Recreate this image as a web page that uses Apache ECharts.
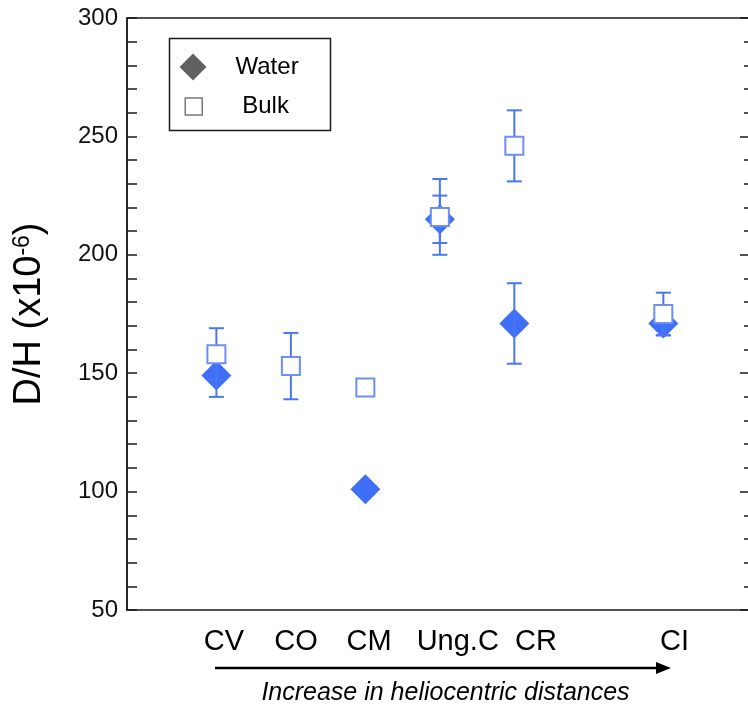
<!DOCTYPE html>
<html>
<head>
<meta charset="utf-8">
<script src="https://cdn.jsdelivr.net/npm/echarts@6/dist/echarts.min.js"></script>
<style>
  html, body { margin: 0; padding: 0; background: #fff; }
  #chart { width: 748px; height: 713px; }
</style>
</head>
<body>
<div id="chart"></div>
<script>
// Chondrite groups, in order of increasing heliocentric distance
const groups = ['CV', 'CO', 'CM', 'Ung.C', 'CR', 'CI'];
const groupPos = [1, 2, 3, 4, 5, 7];

// D/H (x10^-6) of the water component and its uncertainty
const waterDH = [149, null, 101, 215, 171, 171];
const waterErr = [9, null, null, 10, 17, 5];

// D/H (x10^-6) of the bulk rock and its uncertainty
const bulkDH = [158, 153, 144, 216, 246, 175];
const bulkErr = [11, 14, null, 16, 15, 9];

// Y axis ticks
const yTicks = [50, 100, 150, 200, 250, 300];

// where each group name sits along the x scale
const groupLabelAt = [1.1, 2.07, 3.05, 4.24, 5.29, 7.15];

const FONT = '"Liberation Sans", Helvetica, Arial, sans-serif';
const BLUE = '#3f6ff6';
const BAR_BLUE = '#4a76f2';
const SQUARE_EDGE = '#6d8ff0';

const waterPts = [], bulkPts = [], waterBars = [], bulkBars = [];
groups.forEach((g, i) => {
  if (waterDH[i] != null) {
    waterPts.push([groupPos[i], waterDH[i]]);
    if (waterErr[i] != null) waterBars.push([groupPos[i], waterDH[i] - waterErr[i], waterDH[i] + waterErr[i]]);
  }
  if (bulkDH[i] != null) {
    bulkPts.push([groupPos[i], bulkDH[i]]);
    if (bulkErr[i] != null) bulkBars.push([groupPos[i], bulkDH[i] - bulkErr[i], bulkDH[i] + bulkErr[i]]);
  }
});

function errorBar(params, api) {
  const x = api.value(0);
  const lo = api.coord([x, api.value(1)]);
  const hi = api.coord([x, api.value(2)]);
  const hw = 7.5;
  const style = { stroke: BAR_BLUE, lineWidth: 2, fill: null };
  return {
    type: 'group',
    children: [
      { type: 'line', shape: { x1: lo[0], y1: lo[1], x2: hi[0], y2: hi[1] }, style },
      { type: 'line', shape: { x1: lo[0] - hw, y1: lo[1], x2: lo[0] + hw, y2: lo[1] }, style },
      { type: 'line', shape: { x1: hi[0] - hw, y1: hi[1], x2: hi[0] + hw, y2: hi[1] }, style }
    ]
  };
}

const chart = echarts.init(document.getElementById('chart'), null, { renderer: 'canvas' });

const yMin = yTicks[0], yMax = yTicks[yTicks.length - 1];
const yStep = yTicks[1] - yTicks[0];

chart.setOption({
  backgroundColor: '#ffffff',
  animation: false,
  grid: {
    left: 127, top: 18, width: 624, height: 592,
    outerBoundsMode: 'none', containLabel: false,
    show: true, borderColor: '#1a1a1a', borderWidth: 1.5, backgroundColor: 'transparent'
  },
  xAxis: {
    type: 'value', min: -0.2, max: 8.177,
    axisLine: { show: false },
    axisTick: { show: false },
    splitLine: { show: false },
    axisLabel: {
      customValues: groupLabelAt,
      formatter: (v) => {
        let best = 0;
        groupLabelAt.forEach((p, i) => { if (Math.abs(p - v) < Math.abs(groupLabelAt[best] - v)) best = i; });
        return groups[best];
      },
      margin: 17, fontSize: 29, color: '#000', fontFamily: FONT
    }
  },
  yAxis: [
    {
      type: 'value', min: yMin, max: yMax, interval: yStep, position: 'left',
      axisLine: { show: true, onZero: false, lineStyle: { color: '#1a1a1a', width: 1.5 } },
      axisTick: { show: true, inside: true, length: 10, lineStyle: { color: '#1a1a1a', width: 1.5 } },
      minorTick: { show: true, splitNumber: 5, length: 10, lineStyle: { color: '#1a1a1a', width: 1.5 } },
      splitLine: { show: false },
      axisLabel: { margin: 9, fontSize: 24, color: '#111', fontFamily: FONT },
      name: '{m|D/H (x10}{s|-6}{m|)}',
      nameLocation: 'middle', nameRotate: 90, nameGap: 78,
      nameTextStyle: {
        rich: {
          m: { fontSize: 38, color: '#000', fontFamily: FONT },
          s: { fontSize: 23, color: '#000', fontFamily: FONT, verticalAlign: 'top', padding: [0, 0, 15, 0] }
        }
      }
    },
    {
      type: 'value', min: yMin, max: yMax, interval: yStep, position: 'right',
      axisLine: { show: false, onZero: false },
      axisTick: { show: true, inside: true, length: 11, lineStyle: { color: '#1a1a1a', width: 1.5 } },
      minorTick: { show: true, splitNumber: 5, length: 7, lineStyle: { color: '#1a1a1a', width: 1.5 } },
      splitLine: { show: false },
      axisLabel: { show: false }
    }
  ],
  legend: [
    {
      selectedMode: false, orient: 'vertical', padding: 0,
      left: 179.5, top: 53.5, itemWidth: 27, itemHeight: 27,
      data: [{ name: 'Water', icon: 'diamond', itemStyle: { color: '#616161', borderWidth: 0 } }],
      textStyle: { fontSize: 24, color: '#000', fontFamily: FONT, padding: [4, 0, 0, 24] }
    },
    {
      selectedMode: false, orient: 'vertical', padding: 0,
      left: 184.5, top: 94.5, itemWidth: 17, itemHeight: 17,
      data: [{ name: 'Bulk', icon: 'rect', itemStyle: { color: '#ffffff', borderColor: '#777777', borderWidth: 1.5 } }],
      textStyle: { fontSize: 24, color: '#000', fontFamily: FONT, padding: [2, 0, 0, 35] }
    }
  ],
  graphic: [
    {
      type: 'rect', left: 167, top: 36, z: 100,
      shape: { width: 161, height: 92 },
      style: { fill: null, stroke: '#1a1a1a', lineWidth: 1.5 }
    },
    {
      type: 'line', z: 100,
      shape: { x1: 215, y1: 668, x2: 660, y2: 668 },
      style: { stroke: '#000', lineWidth: 2.5 }
    },
    {
      type: 'polygon', z: 100,
      shape: { points: [[656, 662], [671, 668], [656, 674]] },
      style: { fill: '#000' }
    },
    {
      type: 'text', x: 445.5, y: 693, z: 100,
      style: {
        text: 'Increase in heliocentric distances',
        fontSize: 25, fontStyle: 'italic', fontFamily: FONT, fill: '#000',
        align: 'center', verticalAlign: 'middle'
      }
    }
  ],
  series: [
    {
      name: 'Water', type: 'scatter', data: waterPts, z: 2,
      symbol: 'diamond', symbolSize: 30,
      itemStyle: { color: BLUE, opacity: 1 }
    },
    {
      type: 'custom', data: waterBars, z: 3, renderItem: errorBar,
      encode: { x: 0, y: [1, 2] }
    },
    {
      type: 'custom', data: bulkBars, z: 3, renderItem: errorBar,
      encode: { x: 0, y: [1, 2] }
    },
    {
      name: 'Bulk', type: 'scatter', data: bulkPts, z: 4,
      symbol: 'rect', symbolSize: 18,
      itemStyle: { color: '#ffffff', borderColor: SQUARE_EDGE, borderWidth: 2, opacity: 1 }
    }
  ]
});
</script>
</body>
</html>
